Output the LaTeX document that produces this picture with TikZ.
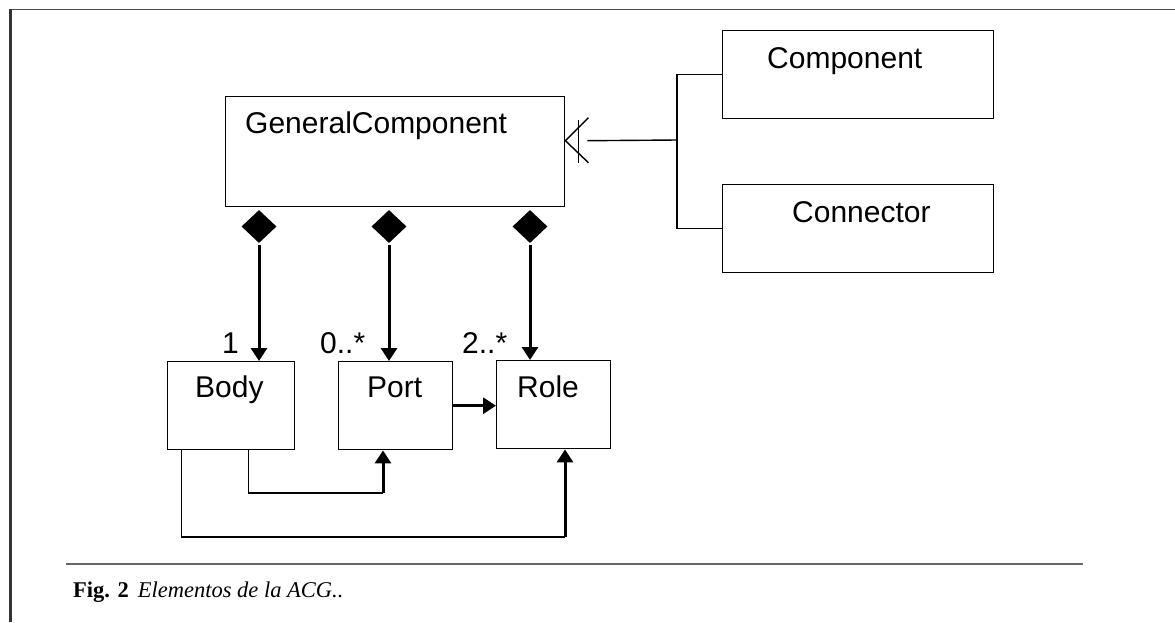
\documentclass[tikz,border=0pt]{standalone}
\usepackage{fontspec}
\setmainfont{Liberation Sans}
\newfontfamily\capfont{Liberation Serif}
\usetikzlibrary{arrows.meta,shapes.geometric}
\begin{document}
\begin{tikzpicture}[x=1pt,y=-1pt,
  box/.style={draw,line width=1.4pt,inner sep=0pt,anchor=north west},
  lbl/.style={anchor=base west,inner sep=0pt,font=\fontsize{30}{36}\selectfont},
  dia/.style={diamond,fill=black,draw=none,inner sep=0pt,minimum width=35pt,minimum height=33pt},
  thickarrow/.style={line width=3pt,-{Triangle[length=13pt,width=16pt]}},
  thinline/.style={line width=1.4pt}]
\useasboundingbox (0,0) rectangle (1175,622);
% outer frame
\draw[line width=1.5pt,black!70] (9,9.5) -- (1175,9.5);
\draw[line width=3pt,black!80] (10.5,9) -- (10.5,622);

% boxes
\node[box,minimum width=339pt,minimum height=110pt] (gc) at (225,96) {};
\node[box,minimum width=271pt,minimum height=88pt] (comp) at (722,30) {};
\node[box,minimum width=271pt,minimum height=88pt] (conn) at (722,184) {};
\node[box,minimum width=127pt,minimum height=88pt] (body) at (167,361) {};
\node[box,minimum width=114pt,minimum height=88pt] (port) at (338,361) {};
\node[box,minimum width=114pt,minimum height=88pt] (role) at (496,360) {};

% texts
\node[lbl] (tgc) at (245,133) {GeneralComponent};
\node[lbl] (tcomp) at (767,68) {Component};
\node[lbl] (tconn) at (792,222) {Connector};
\node[lbl] (tbody) at (195,397) {Body};
\node[lbl] (tport) at (367,397) {Port};
\node[lbl] (trole) at (517,397) {Role};
\node[lbl] (m1) at (222,353) {1};
\node[lbl] (m2) at (320,353) {0..*};
\node[lbl] (m3) at (462,353) {2..*};

% composition diamonds
\node[dia] (d1) at (259,226.5) {};
\node[dia] (d2) at (389,226.5) {};
\node[dia] (d3) at (530,226.5) {};
\draw[thickarrow,shorten <=2pt] (d1.south) -- (d1.south |- body.north);
\draw[thickarrow,shorten <=2pt] (d2.south) -- (d2.south |- port.north);
\draw[thickarrow,shorten <=2pt] (d3.south) -- (d3.south |- role.north);

% Port -> Role
\draw[thickarrow] (port.east) -- (port.east -| role.west);

% Body -> Port
\coordinate (bpc) at (383,493);
\draw[thinline] ([xshift=17.5pt]body.south) |- (bpc);
\draw[thickarrow] (bpc) -- (bpc |- port.south);

% Body -> Role
\coordinate (brc) at (565,537);
\draw[thinline] ([xshift=-49.5pt]body.south) |- (brc);
\draw[thickarrow] (brc) -- (brc |- role.south);

% inheritance
\coordinate (ga) at ([yshift=11pt]gc.east);
\draw[thinline] ([shift={(23,-23)}]ga) -- (ga) -- ([shift={(23,22)}]ga);
\draw[thinline] ([shift={(13,-21)}]ga) -- ([shift={(13,22)}]ga);
\coordinate (jn) at (677,140);
\draw[thinline] ([xshift=22pt]ga) -- (jn);
\draw[thinline] (comp.west) -| (jn) |- (conn.west);

% caption
\draw[line width=2pt,black!60] (66,564) -- (1083,564);
\node[anchor=base west,inner sep=0pt,font=\capfont\fontsize{22.5}{27}\selectfont] (cap) at (73,597)
  {\textbf{Fig. 2}\hspace{9pt}\textit{Elementos de la ACG..}};
\end{tikzpicture}
\end{document}
